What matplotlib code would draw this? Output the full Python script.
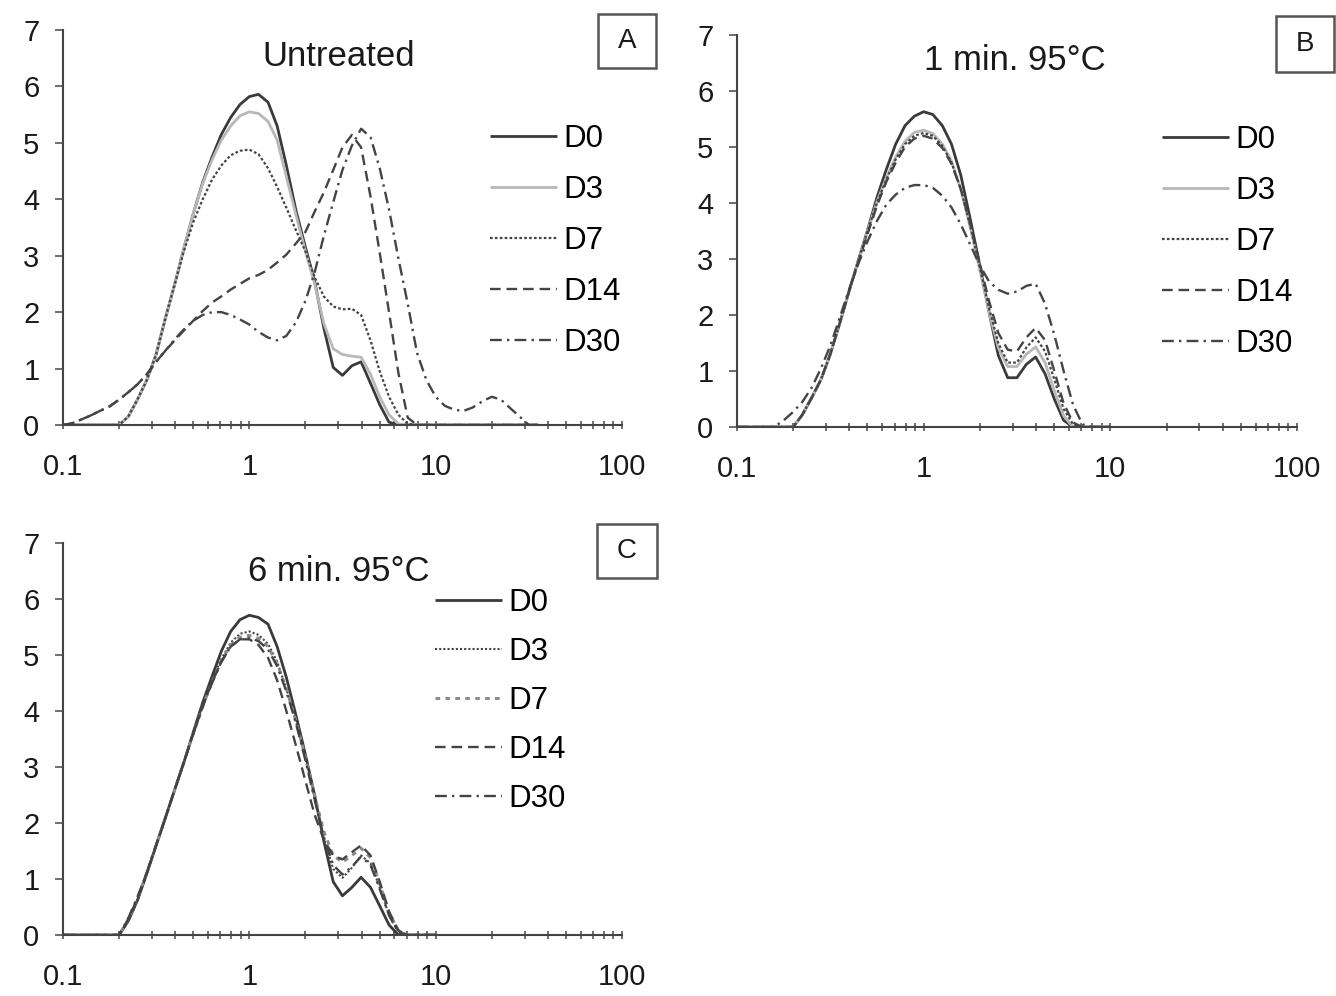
import matplotlib
matplotlib.use("Agg")
import matplotlib.pyplot as plt
import matplotlib.patches as patches
from matplotlib.ticker import FixedLocator, LogLocator, NullFormatter

plt.rcParams['font.family'] = ['Liberation Sans', 'DejaVu Sans']

# particle size (µm), log-spaced bins
sizes = [0.100, 0.112, 0.126, 0.141, 0.158, 0.178, 0.200, 0.224, 0.251, 0.282,
         0.316, 0.355, 0.398, 0.447, 0.501, 0.562, 0.631, 0.708, 0.794, 0.891,
         1.00, 1.12, 1.26, 1.41, 1.58, 1.78, 2.00, 2.24, 2.51, 2.82,
         3.16, 3.55, 3.98, 4.47, 5.01, 5.62, 6.31, 7.08, 7.94, 8.91,
         10.0, 11.2, 12.6, 14.1, 15.8, 17.8, 20.0, 22.4, 25.1, 28.2,
         31.6, 35.5]
sizes_bc = sizes[:41]

labels = ["D0", "D3", "D7", "D14", "D30"]

# A : untreated
a_d0 = [0, 0, 0, 0, 0, 0, 0, 0.15, 0.45, 0.8,
        1.25, 1.9, 2.5, 3.15, 3.75, 4.3, 4.75, 5.15, 5.45, 5.68,
        5.82, 5.86, 5.72, 5.3, 4.6, 3.8, 3.15, 2.55, 1.72, 1.02,
        0.88, 1.05, 1.12, 0.74, 0.36, 0.05, 0, 0, 0, 0,
        0, 0, 0, 0, 0, 0, 0, 0, 0, 0, 0, 0]
a_d3 = [0, 0, 0, 0, 0, 0, 0, 0.15, 0.45, 0.8,
        1.25, 1.9, 2.5, 3.15, 3.75, 4.28, 4.7, 5.05, 5.3, 5.48,
        5.55, 5.52, 5.38, 5.05, 4.4, 3.72, 3.08, 2.5, 1.8, 1.35,
        1.25, 1.22, 1.2, 0.9, 0.5, 0.18, 0.02, 0, 0, 0,
        0, 0, 0, 0, 0, 0, 0, 0, 0, 0, 0, 0]
a_d7 = [0, 0, 0, 0, 0, 0, 0, 0.15, 0.45, 0.8,
        1.25, 1.9, 2.5, 3.1, 3.6, 4.0, 4.35, 4.6, 4.78, 4.86,
        4.88, 4.8, 4.55, 4.22, 3.85, 3.45, 3.08, 2.62, 2.28, 2.1,
        2.05, 2.06, 1.95, 1.5, 0.95, 0.5, 0.18, 0.02, 0, 0,
        0, 0, 0, 0, 0, 0, 0, 0, 0, 0, 0, 0]
a_d14 = [0, 0.03, 0.1, 0.17, 0.25, 0.33, 0.45, 0.58, 0.72, 0.9,
         1.12, 1.32, 1.5, 1.68, 1.85, 2.02, 2.17, 2.28, 2.4, 2.5,
         2.6, 2.66, 2.75, 2.88, 3.02, 3.22, 3.42, 3.78, 4.12, 4.52,
         4.92, 5.14, 4.92, 4.05, 3.05, 2.0, 0.92, 0.13, 0, 0,
         0, 0, 0, 0, 0, 0, 0, 0, 0, 0, 0, 0]
a_d30 = [0, 0.03, 0.1, 0.17, 0.25, 0.33, 0.45, 0.58, 0.72, 0.9,
         1.12, 1.32, 1.52, 1.7, 1.85, 1.95, 2.0, 2.0, 1.95, 1.87,
         1.78, 1.65, 1.55, 1.5, 1.58, 1.82, 2.2, 2.7, 3.35, 3.95,
         4.52, 4.95, 5.25, 5.1, 4.55, 3.82, 2.95, 2.15, 1.28, 0.8,
         0.5, 0.34, 0.27, 0.25, 0.31, 0.42, 0.5, 0.45, 0.3, 0.15, 0, 0]

# B : 1 min. 95°C
b_d0 = [0, 0, 0, 0, 0, 0, 0, 0.22, 0.52, 0.85,
        1.3, 1.85, 2.42, 2.98, 3.52, 4.1, 4.6, 5.05, 5.38, 5.55,
        5.63, 5.58, 5.38, 5.05, 4.5, 3.7, 2.88, 2.05, 1.28, 0.88,
        0.88, 1.12, 1.25, 0.95, 0.5, 0.12, 0, 0, 0, 0, 0]
b_d3 = [0, 0, 0, 0, 0, 0, 0, 0.22, 0.52, 0.85,
        1.3, 1.85, 2.42, 2.97, 3.5, 4.02, 4.45, 4.82, 5.1, 5.26,
        5.3, 5.24, 5.05, 4.75, 4.25, 3.55, 2.8, 2.05, 1.42, 1.08,
        1.08, 1.3, 1.43, 1.15, 0.65, 0.2, 0, 0, 0, 0, 0]
b_d7 = [0, 0, 0, 0, 0, 0, 0, 0.22, 0.52, 0.85,
        1.3, 1.85, 2.42, 2.97, 3.5, 4.0, 4.42, 4.78, 5.05, 5.2,
        5.25, 5.2, 5.02, 4.72, 4.25, 3.58, 2.85, 2.12, 1.5, 1.15,
        1.15, 1.42, 1.6, 1.35, 0.85, 0.32, 0.05, 0, 0, 0, 0]
b_d14 = [0, 0, 0, 0, 0, 0, 0, 0.22, 0.52, 0.85,
         1.3, 1.85, 2.42, 2.95, 3.45, 3.95, 4.38, 4.72, 5.0, 5.15,
         5.2, 5.15, 4.98, 4.7, 4.25, 3.62, 2.92, 2.25, 1.68, 1.38,
         1.35, 1.6, 1.77, 1.55, 1.0, 0.42, 0.08, 0, 0, 0, 0]
b_d30 = [0, 0, 0, 0, 0, 0.12, 0.27, 0.45, 0.7, 1.05,
         1.45, 1.95, 2.45, 2.92, 3.32, 3.68, 3.97, 4.15, 4.27, 4.32,
         4.32, 4.27, 4.13, 3.92, 3.62, 3.25, 2.88, 2.6, 2.45, 2.38,
         2.42, 2.52, 2.56, 2.2, 1.65, 1.0, 0.4, 0.05, 0, 0, 0]

# C : 6 min. 95°C
c_d0 = [0, 0, 0, 0, 0, 0, 0, 0.25, 0.62, 1.1,
        1.6, 2.1, 2.6, 3.1, 3.63, 4.15, 4.62, 5.07, 5.42, 5.63,
        5.71, 5.67, 5.55, 5.15, 4.6, 3.92, 3.22, 2.5, 1.68, 0.95,
        0.7, 0.85, 1.03, 0.85, 0.52, 0.18, 0, 0, 0, 0, 0]
c_d3 = [0, 0, 0, 0, 0, 0, 0, 0.25, 0.62, 1.1,
        1.6, 2.1, 2.6, 3.1, 3.6, 4.1, 4.55, 4.93, 5.22, 5.38,
        5.42, 5.36, 5.2, 4.88, 4.4, 3.8, 3.15, 2.45, 1.72, 1.18,
        1.02, 1.2, 1.42, 1.28, 0.85, 0.35, 0.05, 0, 0, 0, 0]
c_d7 = [0, 0, 0, 0, 0, 0, 0, 0.28, 0.65, 1.12,
        1.6, 2.1, 2.6, 3.1, 3.6, 4.08, 4.52, 4.9, 5.18, 5.32,
        5.35, 5.3, 5.15, 4.85, 4.4, 3.82, 3.18, 2.5, 1.85, 1.42,
        1.3, 1.42, 1.55, 1.38, 0.92, 0.4, 0.08, 0, 0, 0, 0]
c_d14 = [0, 0, 0, 0, 0, 0, 0, 0.28, 0.65, 1.12,
         1.6, 2.1, 2.6, 3.1, 3.6, 4.08, 4.52, 4.88, 5.15, 5.28,
         5.28, 5.18, 4.95, 4.55, 4.0, 3.38, 2.75, 2.15, 1.7, 1.42,
         1.35, 1.48, 1.6, 1.42, 0.95, 0.42, 0.08, 0, 0, 0, 0]
c_d30 = [0, 0, 0, 0, 0, 0, 0, 0.3, 0.68, 1.12,
         1.6, 2.1, 2.6, 3.1, 3.6, 4.08, 4.5, 4.88, 5.15, 5.28,
         5.3, 5.25, 5.1, 4.8, 4.35, 3.78, 3.12, 2.42, 1.75, 1.25,
         1.08, 1.22, 1.4, 1.25, 0.82, 0.35, 0.05, 0, 0, 0, 0]

W, H = 1336, 996
dark = '#3a3a3a'

# styles (A and B share the same legend, C differs for D3/D7)
style_ab = [
    dict(color=dark, lw=2.0, ls='-'),
    dict(color='#b8b8b8', lw=2.0, ls='-'),
    dict(color='#444444', lw=1.6, ls=(0, (1.2, 1.0))),
    dict(color='#444444', lw=1.7, ls=(0, (4.5, 2.5))),
    dict(color='#444444', lw=1.7, ls=(0, (5, 2.2, 1, 2.2))),
]
style_c = [
    dict(color=dark, lw=2.0, ls='-'),
    dict(color='#444444', lw=1.5, ls=(0, (1.0, 1.0))),
    dict(color='#8a8a8a', lw=2.1, ls=(0, (1.6, 1.8))),
    dict(color='#444444', lw=1.7, ls=(0, (4.5, 2.5))),
    dict(color='#444444', lw=1.7, ls=(0, (5, 2.2, 1, 2.2))),
]


def rect(left, bottom, right, top):
    return [left / W, 1 - bottom / H, (right - left) / W, (bottom - top) / H]


def style_axis(ax):
    ax.set_xscale('log')
    ax.set_xlim(0.1, 100)
    ax.set_ylim(0, 7)
    for s in ['top', 'right']:
        ax.spines[s].set_visible(False)
    for s in ['left', 'bottom']:
        ax.spines[s].set_color('#444444')
        ax.spines[s].set_linewidth(1.5)
    ax.xaxis.set_major_locator(FixedLocator([0.1, 1, 10, 100]))
    ax.xaxis.set_minor_locator(LogLocator(base=10, subs=range(2, 10)))
    ax.xaxis.set_minor_formatter(NullFormatter())
    ax.set_xticklabels(["0.1", "1", "10", "100"])
    ax.set_yticks(range(8))
    ax.tick_params(axis='x', which='both', direction='inout', length=6,
                   width=1.2, color='#555555', labelsize=21, pad=17,
                   labelcolor='#1a1a1a')
    ax.tick_params(axis='y', direction='out', length=6, width=1.2,
                   color='#555555', labelsize=21, pad=11, labelcolor='#1a1a1a')


def draw_panel(ax, x, series, styles, title, title_xy, letter, box, leg_xy,
               spacing):
    style_axis(ax)
    for y, lab, st in zip(series, labels, styles):
        ax.plot(x, y, label=lab, solid_capstyle='butt', dash_capstyle='butt',
                **st)
    ax.legend(loc='upper left', bbox_to_anchor=(leg_xy[0] / W, 1 - leg_xy[1] / H),
              bbox_transform=fig.transFigure, frameon=False, fontsize=22.5,
              handlelength=2.15, handletextpad=0.2, labelspacing=spacing,
              borderpad=0, borderaxespad=0)
    fig.text(title_xy[0] / W, 1 - title_xy[1] / H, title, fontsize=25,
             ha='center', va='center', color='#1a1a1a')
    l, t, r, b = box
    fig.add_artist(patches.Rectangle((l / W, 1 - b / H), (r - l) / W, (b - t) / H,
                                     transform=fig.transFigure, fill=False,
                                     edgecolor='#555555', lw=1.8))
    fig.text((l + r) / 2 / W, 1 - (t + b) / 2 / H, letter, fontsize=20,
             ha='center', va='center', color='#1a1a1a')


fig = plt.figure(figsize=(W / 100, H / 100), dpi=100)
ax_a = fig.add_axes(rect(63, 425, 622, 30))
ax_b = fig.add_axes(rect(737, 427, 1297, 35))
ax_c = fig.add_axes(rect(63, 935, 622, 543))

draw_panel(ax_a, sizes, [a_d0, a_d3, a_d7, a_d14, a_d30], style_ab,
           "Untreated", (339, 57), "A", (598, 14, 656, 68), (490, 124), 0.67)
draw_panel(ax_b, sizes_bc, [b_d0, b_d3, b_d7, b_d14, b_d30], style_ab,
           "1 min. 95°C", (1015, 61), "B", (1276, 16, 1334, 72), (1162, 125), 0.67)
draw_panel(ax_c, sizes_bc, [c_d0, c_d3, c_d7, c_d14, c_d30], style_c,
           "6 min. 95°C", (339, 571), "C", (597, 524, 657, 578), (435, 588), 0.61)

fig.savefig("out.png", dpi=100)
